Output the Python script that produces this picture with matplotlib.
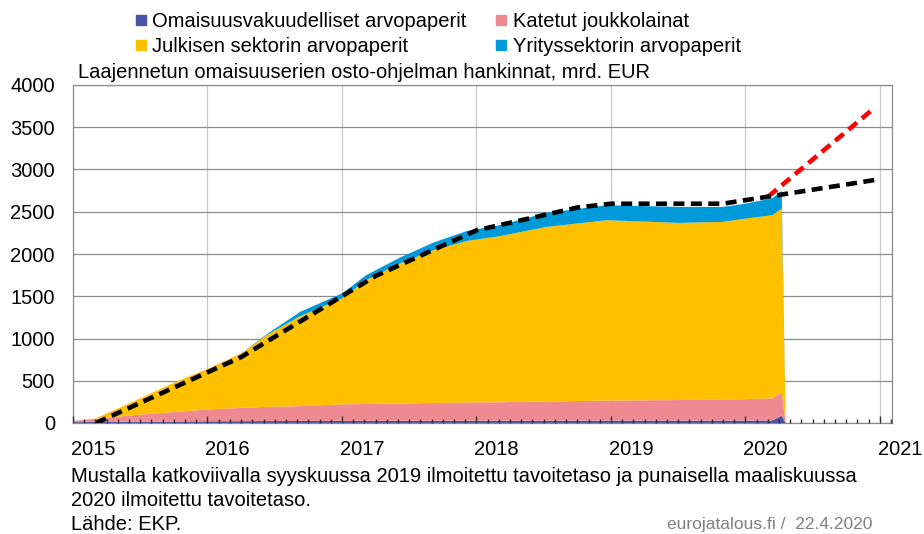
import matplotlib.pyplot as plt
from matplotlib.lines import Line2D
from matplotlib.ticker import MultipleLocator
from matplotlib.transforms import ScaledTranslation

plt.rcParams['font.family'] = ['Liberation Sans', 'DejaVu Sans']

# Purchases under the expanded asset purchase programme, bn EUR
Dates = [2015.00, 2015.17, 2015.50, 2015.75, 2016.00, 2016.25, 2016.44, 2016.69, 2017.00, 2017.18,
         2017.43, 2017.68, 2017.93, 2018.17, 2018.52, 2018.97, 2019.51, 2019.83, 2020.00, 2020.20,
         2020.27, 2020.30]
ABS = [10, 12, 15, 17, 20, 22, 23, 24, 25, 25, 26, 26, 27, 27, 27, 28, 28, 28, 28, 30, 86, 0]
Katetut = [15, 38, 85, 113, 140, 158, 167, 176, 196, 200, 204, 211, 216, 219, 228, 237, 244, 250, 254, 262, 277, 0]
Julkinen = [0, 5, 192, 347, 480, 644, 850, 1065, 1253, 1465, 1657, 1808, 1912, 1964, 2065, 2135, 2096, 2102, 2137, 2167, 2175, 0]
Yritys = [0, 0, 0, 0, 0, 0, 10, 51, 59, 59, 70, 90, 118, 130, 166, 177, 189, 177, 176, 201, 207, 0]

# Target levels: September 2019 (black) and March 2020 (red)
Target_Sep19_X = [2015.17, 2016.25, 2017.25, 2018.00, 2018.75, 2019.00, 2019.83, 2021.00]
Target_Sep19_Y = [0, 780, 1740, 2280, 2550, 2595, 2595, 2885]
Target_Mar20_X = [2020.17, 2020.95]
Target_Mar20_Y = [2680, 3715]

Labels = ["Omaisuusvakuudelliset arvopaperit", "Julkisen sektorin arvopaperit",
          "Katetut joukkolainat", "Yrityssektorin arvopaperit"]
Colours = ["#4B55A5", "#F08A92", "#FFC000", "#0099DA"]
Years = list(range(2015, 2022))
FS = 14.5

fig = plt.figure(figsize=(9.24, 5.34), dpi=100)
ax = fig.add_axes([73/924, 1-423/534, (892-73)/924, (423-85)/534])

ax.stackplot(Dates, ABS, Katetut, Julkinen, Yritys, colors=Colours, linewidth=0, zorder=1)
ax.plot(Target_Mar20_X, Target_Mar20_Y, color='#FF0000', lw=3.3, dashes=(2.4, 1.4), zorder=4)
ax.plot(Target_Sep19_X, Target_Sep19_Y, color='black', lw=3.3, dashes=(2.4, 1.4), zorder=5)

ax.set_xlim(2015, 2021.09)
ax.set_ylim(0, 4000)
ax.set_yticks(range(0, 4001, 500))
ax.set_xticks(Years)
ax.xaxis.set_minor_locator(MultipleLocator(1/12))
ax.set_axisbelow(True)
ax.grid(axis='y', color='#8c8c8c', lw=0.9)
ax.grid(axis='x', color='#c8c8c8', lw=0.9)
ax.tick_params(axis='both', which='both', length=0, labelsize=FS)
ax.tick_params(axis='x', pad=12)
ax.tick_params(axis='y', pad=13)
for s in ax.spines.values():
    s.set_color('#8c8c8c')
    s.set_linewidth(0.9)
shift = ScaledTranslation(0.2, 0, fig.dpi_scale_trans)
for lab in ax.get_xticklabels():
    lab.set_transform(lab.get_transform() + shift)

# overlay axes so the tick marks sit on top of the areas
ax2 = fig.add_axes(ax.get_position(), sharex=ax)
ax2.patch.set_visible(False)
ax2.set_yticks([])
for s in ax2.spines.values():
    s.set_visible(False)
ax2.tick_params(axis='x', which='major', direction='in', length=5, width=1, color='#333333', labelbottom=False)
ax2.tick_params(axis='x', which='minor', direction='in', length=3, width=1, color='#333333')

Handles = [Line2D([], [], marker='s', ls='none', color=c, markersize=7) for c in [Colours[0], Colours[2], Colours[1], Colours[3]]]
fig.legend(Handles, Labels, ncol=2, loc='upper left', bbox_to_anchor=(135/924, 1-12/534), frameon=False,
           fontsize=FS, handlelength=0.55, handletextpad=0.3, columnspacing=1.45, labelspacing=0.32,
           borderaxespad=0, borderpad=0)

fig.text(78/924, 1-72/534, "Laajennetun omaisuuserien osto-ohjelman hankinnat, mrd. EUR", fontsize=FS, va='center')
fig.text(71/924, 1-477/534, "Mustalla katkoviivalla syyskuussa 2019 ilmoitettu tavoitetaso ja punaisella maaliskuussa",
         fontsize=FS, va='center')
fig.text(71/924, 1-500/534, "2020 ilmoitettu tavoitetaso.", fontsize=FS, va='center')
fig.text(71/924, 1-525/534, "Lähde: EKP.", fontsize=FS, va='center')
fig.text(872/924, 1-525/534, "eurojatalous.fi /  22.4.2020", fontsize=12.5, color='#808080', ha='right', va='center')

fig.savefig('out.png', dpi=100)
